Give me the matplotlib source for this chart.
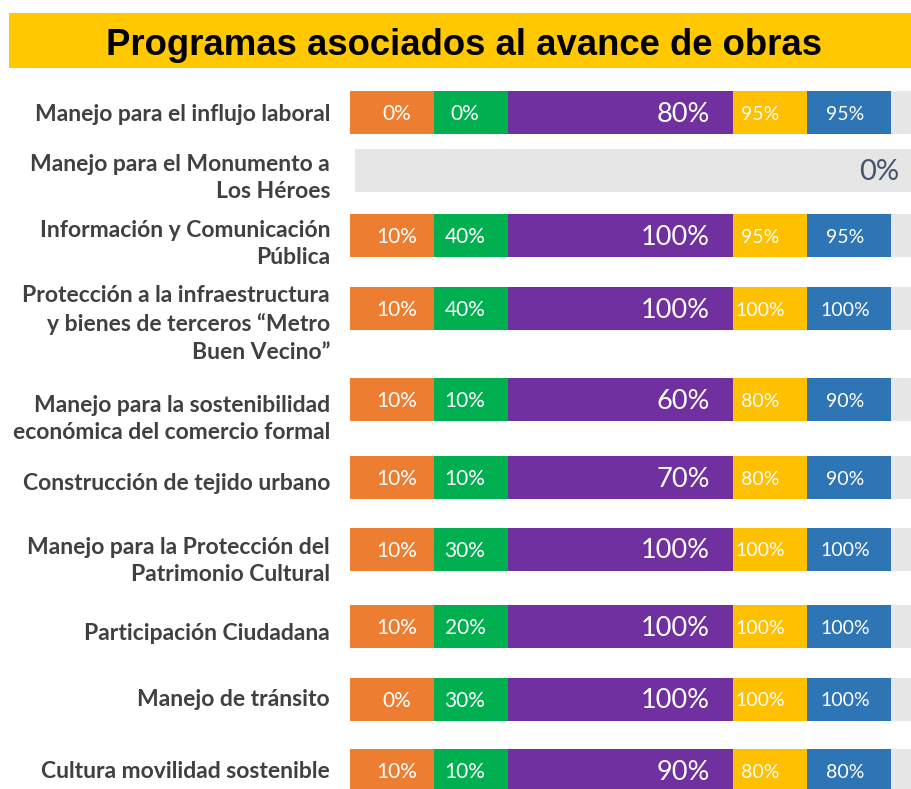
import numpy as np
import matplotlib
matplotlib.use("Agg")
import matplotlib.pyplot as plt
from matplotlib.patches import Rectangle

# program names (row order, top to bottom)
programs = [
    "Manejo para el influjo laboral",
    "Manejo para el Monumento a\nLos Héroes",
    "Información y Comunicación\nPública",
    "Protección a la infraestructura\ny bienes de terceros “Metro\nBuen Vecino”",
    "Manejo para la sostenibilidad\neconómica del comercio formal",
    "Construcción de tejido urbano",
    "Manejo para la Protección del\nPatrimonio Cultural",
    "Participación Ciudadana",
    "Manejo de tránsito",
    "Cultura movilidad sostenible",
]

# progress per stage (percent); None = program without stages
stage_orange = [0, None, 10, 10, 10, 10, 10, 10, 0, 10]
stage_green = [0, None, 40, 40, 10, 10, 30, 20, 30, 10]
stage_purple = [80, None, 100, 100, 60, 70, 100, 100, 100, 90]
stage_yellow = [95, None, 95, 100, 80, 80, 100, 100, 100, 80]
stage_blue = [95, None, 95, 100, 90, 90, 100, 100, 100, 80]
overall = [None, 0, None, None, None, None, None, None, None, None]

# ---- layout (pixels) ----
W, H = 911, 789
row_y = [112, 170, 235, 308, 399, 477, 549, 626, 699, 770]
label_dy = [2, 8, 9, 16, 20, 6, 12, 7, 1, 2]
bar_h = 43
slot_w = [84, 74, 225, 74, 84]
slot_colors = ["#ED7D31", "#00B050", "#7030A0", "#FFC000", "#2E75B6"]
# text anchor inside each slot: (x offset from slot start, ha, fontsize)
slot_text = [(47, "center", 15), (31, "center", 15), (202, "right", 19.5),
             (27, "center", 14), (38, "center", 14)]

fig = plt.figure(figsize=(W / 100, H / 100), dpi=100)
fig.patch.set_facecolor("white")

# title band
fig.patches.append(Rectangle((9 / W, 1 - 68 / H), 1, 55 / H,
                             transform=fig.transFigure, facecolor="#FFC800",
                             edgecolor="none"))
fig.text(0.5 + 8 / W, 1 - 55 / H, "Programas asociados al avance de obras",
         ha="center", va="baseline", fontsize=26.3, fontweight="bold",
         family="Liberation Sans", color="black")

ax = fig.add_axes([350 / W, 0, (W - 350) / W, 1])
ax.set_xlim(0, W - 350)
ax.set_ylim(H, 0)
ax.axis("off")

stages = [stage_orange, stage_green, stage_purple, stage_yellow, stage_blue]
lefts = np.concatenate([[0], np.cumsum(slot_w)[:-1]])

for i, name in enumerate(programs):
    y = row_y[i]
    # grey background track
    ax.barh(y, W - 355, left=5, height=bar_h, color="#E6E6E6", edgecolor="none")
    if overall[i] is not None:
        ax.text(W - 350 - 12, y + 2, f"{overall[i]}%", ha="right", va="center",
                fontsize=21, color="#44546A", family="Lato")
    else:
        for k, vals in enumerate(stages):
            ax.barh(y, slot_w[k], left=lefts[k], height=bar_h,
                    color=slot_colors[k], edgecolor="none")
            dx, ha, fs = slot_text[k]
            ax.text(lefts[k] + dx, y + 2, f"{vals[i]}%", ha=ha, va="center",
                    fontsize=fs, color="white", family="Lato")
    ax.text(-20, y + label_dy[i], name, ha="right", va="center",
            fontsize=16.5, fontweight="bold", color="#404040", family="Lato",
            linespacing=1.38, clip_on=False)

fig.savefig("out.png", dpi=100)
